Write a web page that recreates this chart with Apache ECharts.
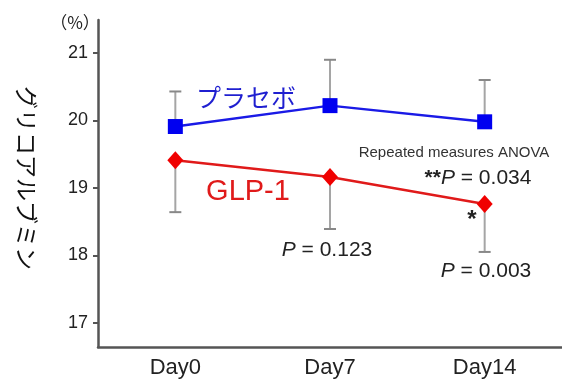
<!DOCTYPE html>
<html><head><meta charset="utf-8">
<script src="https://cdn.jsdelivr.net/npm/echarts@6/dist/echarts.min.js"></script>
<style>html,body{margin:0;padding:0;background:#fff}#c{width:562px;height:392px}</style>
</head><body><div id="c"></div>
<script>
const categories = ['Day0', 'Day7', 'Day14'];
const placeboMean = [19.91, 20.22, 19.98];
const placeboErrUp = [0.52, 0.68, 0.62];
const glpMean = [19.41, 19.16, 18.76];
const glpErrDown = [0.77, 0.77, 0.71];
const yTicks = [17, 18, 19, 20, 21];

const FONT = '"Liberation Sans", Arial, sans-serif';
const JP = '"Noto Sans CJK JP", sans-serif';

function errData(mean, err, sign) {
  return mean.map((m, i) => [i, m, sign * err[i]]);
}
function renderErr(params, api) {
  const x = api.value(0), m = api.value(1), e = api.value(2);
  const p0 = api.coord([x, m]);
  const p1 = api.coord([x, m + e]);
  const hw = 6;
  const st = { stroke: '#a5a5a5', lineWidth: 2 };
  return { type: 'group', children: [
    { type: 'line', shape: { x1: p0[0], y1: p0[1], x2: p1[0], y2: p1[1] }, style: st },
    { type: 'line', shape: { x1: p1[0] - hw, y1: p1[1], x2: p1[0] + hw, y2: p1[1] }, style: { stroke: '#888', lineWidth: 2 } }
  ]};
}

const chart = echarts.init(document.getElementById('c'));
chart.setOption({
  animation: false,
  grid: { left: 98, right: 0, top: 20, bottom: 45 },
  xAxis: {
    type: 'category', data: categories, boundaryGap: true,
    axisLine: { lineStyle: { color: '#555', width: 2.5 } },
    axisTick: { alignWithLabel: true, length: 5, lineStyle: { color: '#555', width: 2 } },
    axisLabel: { color: '#222', fontSize: 22, fontFamily: FONT, margin: 10 }
  },
  yAxis: {
    type: 'value', min: 16.64, max: 21.49,
    splitLine: { show: false },
    axisLine: { show: true, lineStyle: { color: '#555', width: 2.5 } },
    axisTick: { show: true, length: 5, customValues: yTicks, lineStyle: { color: '#555', width: 2 } },
    axisLabel: { customValues: yTicks, color: '#222', fontSize: 18, fontFamily: FONT, margin: 10 }
  },
  series: [
    { type: 'custom', renderItem: renderErr, data: errData(placeboMean, placeboErrUp, 1), z: 1 },
    { type: 'custom', renderItem: renderErr, data: errData(glpMean, glpErrDown, -1), z: 1 },
    { type: 'line', data: placeboMean, symbol: 'rect', symbolSize: 15, z: 3,
      lineStyle: { color: '#1a1ae6', width: 2.5 }, itemStyle: { color: '#0000f0' } },
    { type: 'line', data: glpMean, symbol: 'diamond', symbolSize: [16, 18], z: 3,
      lineStyle: { color: '#e01a1a', width: 2.5 }, itemStyle: { color: '#f00000' } }
  ],
  graphic: [
    { type: 'text', x: 75, y: 23, style: { text: '（%）', font: '17px ' + JP, fill: '#222', align: 'center', verticalAlign: 'middle' } },
    { type: 'text', x: 27, y: 178, rotation: -Math.PI / 2,
      style: { text: 'グリコアルブミン', font: '23px ' + JP, fill: '#111', align: 'center', verticalAlign: 'middle' } },
    { type: 'text', x: 246, y: 97, style: { text: 'プラセボ', font: '25px ' + JP, fill: '#1f1fd0', align: 'center', verticalAlign: 'middle' } },
    { type: 'text', x: 248, y: 192, style: { text: 'GLP-1', font: '29px ' + FONT, fill: '#e01a1a', align: 'center', verticalAlign: 'middle' } },
    { type: 'text', x: 454, y: 153, style: { text: 'Repeated measures ANOVA', font: '15px ' + FONT, fill: '#333', align: 'center', verticalAlign: 'middle' } },
    { type: 'text', x: 478, y: 178, style: { text: '{s|**}{i|P} = 0.034', font: '21px ' + FONT, fill: '#222', align: 'center', verticalAlign: 'middle',
      rich: { s: { font: 'bold 21px ' + FONT, fill: '#222' }, i: { font: 'italic 21px ' + FONT, fill: '#222' } } } },
    { type: 'text', x: 472, y: 220, style: { text: '*', font: 'bold 24px ' + FONT, fill: '#222', align: 'center', verticalAlign: 'middle' } },
    { type: 'text', x: 327, y: 250, style: { text: '{i|P} = 0.123', font: '21px ' + FONT, fill: '#222', align: 'center', verticalAlign: 'middle',
      rich: { i: { font: 'italic 21px ' + FONT, fill: '#222' } } } },
    { type: 'text', x: 486, y: 271, style: { text: '{i|P} = 0.003', font: '21px ' + FONT, fill: '#222', align: 'center', verticalAlign: 'middle',
      rich: { i: { font: 'italic 21px ' + FONT, fill: '#222' } } } }
  ]
});
</script></body></html>
